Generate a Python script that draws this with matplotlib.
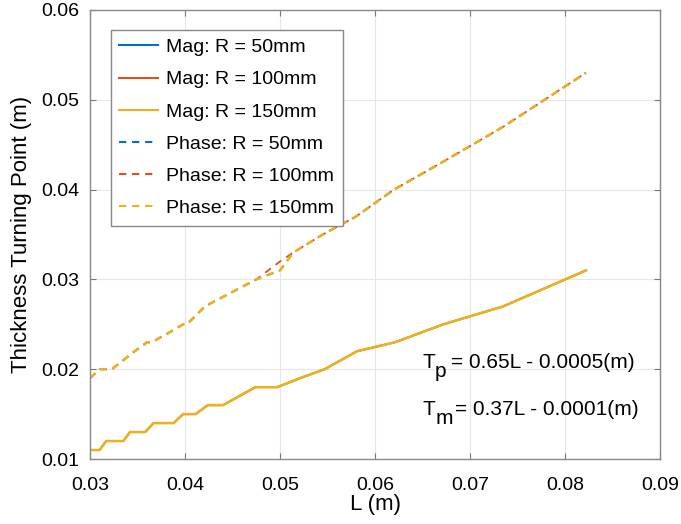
import matplotlib.pyplot as plt

plt.rcParams['font.family'] = ['Liberation Sans', 'DejaVu Sans']
plt.rcParams['lines.scale_dashes'] = False

# Magnitude turning point vs L
mag_L = [0.0300, 0.0310, 0.0317, 0.0335, 0.0342, 0.0358, 0.0367, 0.0388, 0.0398, 0.0411,
         0.0424, 0.0440, 0.0474, 0.0497, 0.0521, 0.0547, 0.0581, 0.0621, 0.0672, 0.0735, 0.0822]
mag_T = [0.011, 0.011, 0.012, 0.012, 0.013, 0.013, 0.014, 0.014, 0.015, 0.015,
         0.016, 0.016, 0.018, 0.018, 0.019, 0.020, 0.022, 0.023, 0.025, 0.027, 0.031]

# Phase turning point vs L
phase_L = [0.0300, 0.0310, 0.0323, 0.0347, 0.0360, 0.0365, 0.0382, 0.0398, 0.0402, 0.0421,
           0.0475, 0.0500, 0.0514, 0.0545, 0.0580, 0.0620, 0.0670, 0.0735, 0.0822]
phase_T = [0.019, 0.020, 0.020, 0.022, 0.023, 0.023, 0.024, 0.025, 0.025, 0.027,
           0.030, 0.031, 0.033, 0.035, 0.037, 0.040, 0.043, 0.047, 0.053]
# R = 100mm phase differs only around L = 0.05
phase_T_100 = [0.019, 0.020, 0.020, 0.022, 0.023, 0.023, 0.024, 0.025, 0.025, 0.027,
               0.030, 0.032, 0.033, 0.035, 0.037, 0.040, 0.043, 0.047, 0.053]

radii = ['50mm', '100mm', '150mm']
colors = ['#0072BD', '#D95319', '#EDB120']
phase_sets = [phase_T, phase_T_100, phase_T]
widths = [1.3, 1.3, 1.85]   # hidden series drawn thinner so the top one covers them

fig = plt.figure(figsize=(6.81, 5.24), dpi=100)
ax = fig.add_axes([0.1322, 0.124, 0.837, 0.857])

for r, c, w in zip(radii, colors, widths):
    ax.plot(mag_L, mag_T, color=c, linewidth=w, label=f'Mag: R = {r}')
for r, c, w, pt in zip(radii, colors, widths, phase_sets):
    ax.plot(phase_L, pt, color=c, linewidth=w, linestyle=(0, (5.2, 4.2)),
            label=f'Phase: R = {r}')

ax.set_xlim(0.03, 0.09)
ax.set_ylim(0.01, 0.06)
ax.set_xticks([0.03, 0.04, 0.05, 0.06, 0.07, 0.08, 0.09])
ax.set_yticks([0.01, 0.02, 0.03, 0.04, 0.05, 0.06])
ax.set_xticklabels(['0.03', '0.04', '0.05', '0.06', '0.07', '0.08', '0.09'])
ax.set_yticklabels(['0.01', '0.02', '0.03', '0.04', '0.05', '0.06'])
ax.tick_params(direction='in', length=4, labelsize=14, color='#777777',
               top=True, right=True)
ax.tick_params(axis='x', pad=13)
ax.tick_params(axis='y', pad=8)
ax.grid(True, color='#e6e6e6', linewidth=0.8)
ax.set_axisbelow(True)
for s in ax.spines.values():
    s.set_color('#888888')
    s.set_linewidth(1)

ax.set_xlabel('L (m)', fontsize=16)
ax.set_ylabel('Thickness Turning Point (m)', fontsize=16)
ax.xaxis.set_label_coords(0.5, -0.078)
ax.yaxis.set_label_coords(-0.102, 0.5)

# fitted relations, MATLAB-style subscripts
eqs = [('p', '= 0.65L - 0.0005(m)', 0.0201, 20.7),
       ('m', '= 0.37L - 0.0001(m)', 0.0149, 23.7)]
for sub, rest, yv, dx in eqs:
    ax.annotate('T', (0.0650, yv), fontsize=15, va='baseline')
    ax.annotate(sub, (0.0650, yv), xytext=(9.1, -6.5), textcoords='offset points',
                fontsize=15, va='baseline')
    ax.annotate(rest, (0.0650, yv), xytext=(dx, 0), textcoords='offset points',
                fontsize=15, va='baseline')

leg = ax.legend(loc='upper left', bbox_to_anchor=(0.0363, 0.9555), borderaxespad=0,
                fontsize=14, frameon=True, fancybox=False, edgecolor='#888888',
                framealpha=1, handlelength=2.0, handletextpad=0.4, labelspacing=0.75,
                borderpad=0.45)
leg.get_frame().set_linewidth(1)
for h in leg.get_lines():
    h.set_linewidth(1.5)

fig.savefig('out.png', dpi=100)
